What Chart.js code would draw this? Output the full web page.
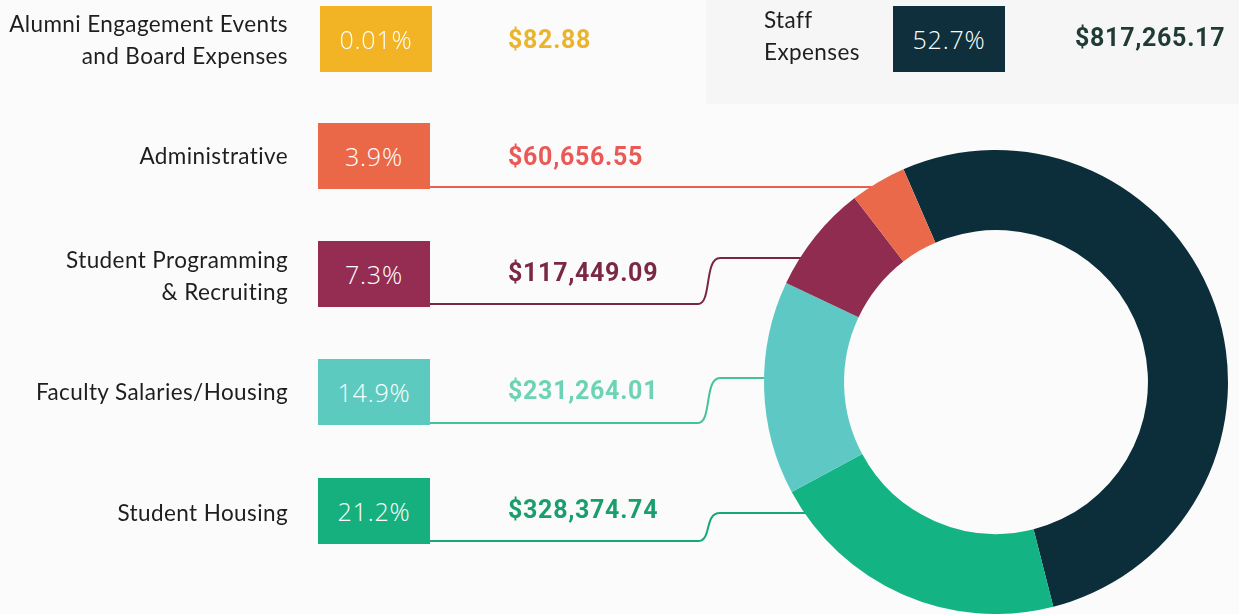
<!DOCTYPE html>
<html>
<head>
<meta charset="utf-8">
<script src="https://cdn.jsdelivr.net/npm/chart.js"></script>
<style>
  body { margin: 0; background: #fbfbfb; }
  #wrap { position: relative; width: 1239px; height: 614px; overflow: hidden; }
  #panel { position: absolute; left: 706px; top: 0; width: 533px; height: 104px; background: #f6f6f6; }
  #chartBox { position: absolute; left: 0; top: 0; width: 1239px; height: 614px; }
  .lbl { position: absolute; font-family: Lato, sans-serif; font-size: 22.5px; letter-spacing: 0.4px;
         color: #1e1e1e; line-height: 32px; }
  .lbl.right { text-align: right; }
  .pct { position: absolute; width: 112px; height: 66px; line-height: 66px; text-align: center;
         font-family: "Open Sans", sans-serif; font-weight: 300; font-size: 25px; letter-spacing: 0.8px; color: #fff; }
  .amt { position: absolute; font-family: Roboto, sans-serif; font-weight: 700; font-size: 25px;
         line-height: 30px; letter-spacing: 0.7px; }
</style>
</head>
<body>
<div id="wrap">
  <div id="panel"></div>
  <div id="chartBox"><canvas id="gastos"></canvas></div>
</div>
<script>
// Datos del gráfico
const categorias = ['Staff Expenses', 'Student Housing', 'Faculty Salaries/Housing',
  'Student Programming & Recruiting', 'Administrative', 'Alumni Engagement Events and Board Expenses'];
const montos = [817265.17, 328374.74, 231264.01, 117449.09, 60656.55, 82.88];
const porcentajes = ['52.7%', '21.2%', '14.9%', '7.3%', '3.9%', '0.01%'];
const textoMontos = ['$817,265.17', '$328,374.74', '$231,264.01', '$117,449.09', '$60,656.55', '$82.88'];
const etiquetas = [['Staff', 'Expenses'], ['Student Housing'], ['Faculty Salaries/Housing'],
  ['Student Programming', '& Recruiting'], ['Administrative'], ['Alumni Engagement Events', 'and Board Expenses']];

// Colores
const coloresAro = ['#0c2e3a', '#14b383', '#5ec9c4', '#8f2c4f', '#e9694a', '#f2b324'];
const coloresCaja = ['#0e2f3b', '#16b07f', '#5dcabf', '#952d53', '#ea6848', '#f2b324'];
const coloresMonto = ['#1f3b36', '#199f6d', '#6cd3b4', '#7b2846', '#ea5956', '#ecb42c'];
const coloresLinea = ['#0c2e3a', '#17a877', '#3fc49e', '#7a2643', '#e9604f', '#f2b324'];

// Posiciones de cada fila: caja (x, y), etiqueta, monto, conector
const filas = [
  { caja: [893, 6], lbl: { left: 764, top: 4 }, monto: [1075, 23], linea: null },
  { caja: [318, 478], lbl: { right: 951, top: 497 }, monto: [508, 495], linea: { bajo: 541, alto: 513 } },
  { caja: [318, 359], lbl: { right: 951, top: 376 }, monto: [508, 376], linea: { bajo: 423, alto: 378 } },
  { caja: [318, 241], lbl: { right: 951, top: 244 }, monto: [508, 258], linea: { bajo: 304, alto: 258 } },
  { caja: [318, 123], lbl: { right: 951, top: 140 }, monto: [508, 142], linea: { bajo: 187, alto: null } },
  { caja: [320, 6], lbl: { right: 951, top: 8 }, monto: [508, 25], linea: null }
];

// Crear etiquetas, cajas y montos como texto real
const wrap = document.getElementById('wrap');
filas.forEach((f, i) => {
  const l = document.createElement('div');
  l.className = 'lbl' + (f.lbl.right ? ' right' : '');
  if (f.lbl.right) l.style.right = f.lbl.right + 'px'; else l.style.left = f.lbl.left + 'px';
  l.style.top = f.lbl.top + 'px';
  l.innerHTML = etiquetas[i].join('<br>');
  wrap.appendChild(l);

  const c = document.createElement('div');
  c.className = 'pct';
  c.style.left = f.caja[0] + 'px';
  c.style.top = f.caja[1] + 'px';
  c.style.background = coloresCaja[i];
  c.textContent = porcentajes[i];
  wrap.appendChild(c);

  const m = document.createElement('div');
  m.className = 'amt';
  m.style.left = f.monto[0] + 'px';
  m.style.top = f.monto[1] + 'px';
  m.style.color = coloresMonto[i];
  m.textContent = textoMontos[i];
  wrap.appendChild(m);
});

// Plugin para los conectores desde las cajas hasta el aro
const conectores = {
  id: 'conectores',
  beforeDatasetsDraw(chart) {
    const arco = chart.getDatasetMeta(0).data[0];
    if (!arco) return;
    const cx = arco.x, cy = arco.y, r = arco.outerRadius;
    const ctx = chart.ctx;
    ctx.save();
    ctx.lineWidth = 2;
    filas.forEach((f, i) => {
      if (!f.linea) return;
      const yFin = f.linea.alto === null ? f.linea.bajo : f.linea.alto;
      const xFin = cx - Math.sqrt(r * r - (yFin - cy) * (yFin - cy)) + 6;
      const x0 = f.caja[0] + 112;
      ctx.strokeStyle = coloresLinea[i];
      ctx.beginPath();
      ctx.moveTo(x0, f.linea.bajo);
      if (f.linea.alto === null) {
        ctx.lineTo(xFin, yFin);
      } else {
        const xc = 698;
        ctx.lineTo(xc, f.linea.bajo);
        ctx.bezierCurveTo(xc + 14, f.linea.bajo, xc + 6, yFin, xc + 22, yFin);
        ctx.lineTo(xFin, yFin);
      }
      ctx.stroke();
    });
    ctx.restore();
  }
};

const chart = new Chart(document.getElementById('gastos').getContext('2d'), {
  type: 'doughnut',
  data: {
    labels: categorias,
    datasets: [{
      data: montos,
      backgroundColor: coloresAro,
      borderWidth: 0,
      hoverOffset: 0
    }]
  },
  options: {
    responsive: true,
    maintainAspectRatio: false,
    animation: false,
    cutout: '65.5%',
    rotation: -23.5,
    layout: { padding: { left: 764, right: 11, top: 150, bottom: 0 } },
    plugins: { legend: { display: false }, tooltip: { enabled: false } }
  },
  plugins: [conectores]
});
</script>
</body>
</html>
